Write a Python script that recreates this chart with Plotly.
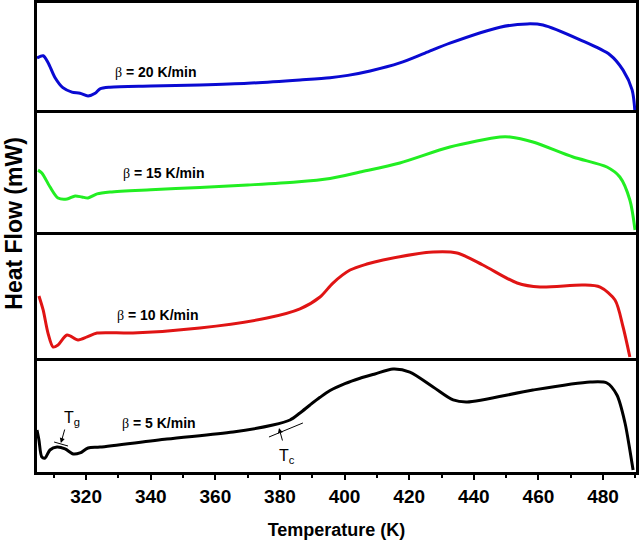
import plotly.graph_objects as go
from plotly.subplots import make_subplots

# DSC traces, heat flow in arbitrary units (each panel scaled 0-10)
temp_20 = [304.8, 306.7, 308.2, 310.4, 312.8, 315.6, 318.1, 320.6, 322.8, 324.3, 327.4, 340.0, 355.2, 370.0,
           386.2, 395.5, 401.0, 407.9, 417.1, 424.9, 432.6, 448.1, 456.5, 461.4, 472.9, 482.1, 486.2, 489.0,
           489.9]
hf_20 = [5.0, 5.2, 4.6, 3.2, 2.3, 1.9, 1.8, 1.55, 1.8, 2.2, 2.35, 2.45, 2.55, 2.7,
         3.0, 3.2, 3.42, 3.82, 4.55, 5.45, 6.35, 7.8, 8.1, 8.0, 6.65, 5.3, 3.9, 2.1,
         0.0]

temp_15 = [305.1, 306.3, 308.8, 311.3, 314.1, 316.6, 318.7, 320.6, 323.4, 327.4, 340.0, 355.2, 370.0, 385.0,
           395.5, 404.8, 417.1, 432.6, 448.1, 451.2, 458.3, 470.7, 481.2, 485.2, 488.3, 489.9]
hf_15 = [5.2, 4.96, 3.8, 2.86, 2.77, 3.03, 2.94, 2.86, 3.2, 3.36, 3.55, 3.74, 3.95, 4.2,
         4.5, 5.04, 5.8, 7.14, 7.98, 7.98, 7.56, 6.3, 5.46, 4.62, 2.69, 0.17]

temp_10 = [305.4, 306.7, 308.2, 309.8, 311.3, 314.1, 317.5, 320.3, 323.4, 334.5, 355.2, 376.0, 386.2,
           392.4, 396.4, 401.7, 406.9, 411.9, 427.4, 434.8, 442.8, 453.4, 460.5, 473.8, 479.1, 483.7,
           486.2, 488.3]
hf_10 = [4.92, 3.81, 1.98, 0.87, 1.03, 1.83, 1.43, 1.67, 1.98, 1.98, 2.38, 3.17, 3.9,
         4.84, 5.95, 6.98, 7.46, 7.78, 8.41, 8.33, 7.38, 5.95, 5.63, 5.79, 5.63, 4.6,
         2.46, 0.08]

temp_5 = [304.8, 305.4, 306.3, 307.3, 308.8, 311.0, 313.5, 316.0, 318.1, 320.6, 324.3, 345.0, 365.5,
          377.8, 383.1, 386.2, 389.3, 392.4, 395.5, 400.1, 404.8, 409.4, 415.0, 420.2, 427.4, 433.6,
          437.9, 458.3, 476.0, 481.2, 484.3, 486.8, 488.3, 489.3]
hf_5 = [3.68, 2.81, 1.32, 1.23, 1.93, 2.19, 2.02, 1.58, 1.67, 2.11, 2.19, 2.89, 3.51,
        4.12, 4.56, 5.18, 5.88, 6.55, 7.15, 7.75, 8.22, 8.6, 9.04, 8.77, 7.46, 6.32,
        6.14, 7.19, 7.89, 7.81, 6.75, 4.3, 1.93, 0.18]

rates = ["20", "15", "10", "5"]
colors = ["#0a0ad2", "#22ee22", "#e01414", "#000000"]
label_pos = [(328.3, 3.73), (330.8, 4.96), (329.0, 3.41), (330.5, 4.3)]

# onset construction lines (Tg and Tc) on the 5 K/min trace
tg_line_t = [310.1, 314.4]
tg_line_hf = [2.63, 2.28]
tc_line_t = [376.6, 387.1]
tc_line_hf = [3.07, 4.3]

FONT = "Liberation Sans, Arial, sans-serif"
BETA = "<span style=\"font-family:'Liberation Serif', serif;font-weight:normal\">\u03b2</span>"

fig = make_subplots(rows=4, cols=1, shared_xaxes=True, vertical_spacing=0,
                    row_heights=[110, 119, 126, 114])

series = [(temp_20, hf_20), (temp_15, hf_15), (temp_10, hf_10), (temp_5, hf_5)]
for i, (t, hf) in enumerate(series):
    fig.add_trace(go.Scatter(x=t, y=hf, mode="lines",
                             line=dict(color=colors[i], width=3, shape="spline", smoothing=0.8),
                             showlegend=False), row=i + 1, col=1)
    fig.add_annotation(x=label_pos[i][0], y=label_pos[i][1], xref=f"x{i + 1 if i else ''}",
                       yref=f"y{i + 1 if i else ''}", xanchor="left", yanchor="middle",
                       text=f"{BETA}<b> = {rates[i]} K/min</b>", showarrow=False,
                       font=dict(family=FONT, size=14, color="black"))

fig.add_trace(go.Scatter(x=tg_line_t, y=tg_line_hf, mode="lines",
                         line=dict(color="black", width=1), showlegend=False), row=4, col=1)
fig.add_trace(go.Scatter(x=tc_line_t, y=tc_line_hf, mode="lines",
                         line=dict(color="black", width=1), showlegend=False), row=4, col=1)

# arrows
fig.add_annotation(x=312.2, y=2.54, ax=313.5, ay=3.86, xref="x4", yref="y4", axref="x4", ayref="y4",
                   text="", showarrow=True, arrowhead=2, arrowsize=1, arrowwidth=1, arrowcolor="black")
fig.add_annotation(x=379.7, y=3.86, ax=380.9, ay=2.63, xref="x4", yref="y4", axref="x4", ayref="y4",
                   text="", showarrow=True, arrowhead=2, arrowsize=1, arrowwidth=1, arrowcolor="black")
fig.add_annotation(x=312.6, y=4.65, xref="x4", yref="y4", text="T<sub>g</sub>", showarrow=False,
                   xanchor="left", font=dict(family=FONT, size=16, color="black"))
fig.add_annotation(x=379.2, y=1.4, xref="x4", yref="y4", text="T<sub>c</sub>", showarrow=False,
                   xanchor="left", font=dict(family=FONT, size=16, color="black"))

# panel frames: bottom edge of every panel, plus top edges of panels 1 and 2
fig.update_xaxes(range=[304.8, 490.2], showline=True, mirror=False, linewidth=2.5, linecolor="black",
                 showgrid=False, zeroline=False, ticks="", automargin=False)
fig.update_xaxes(row=1, col=1, mirror=True)
fig.update_xaxes(row=2, col=1, mirror=True)
fig.update_xaxes(row=4, col=1, ticks="outside", ticklen=5, tickwidth=2, tickcolor="black",
                 tick0=320, dtick=20,
                 minor=dict(ticks="outside", ticklen=3, tickwidth=2, tickcolor="black", dtick=10, tick0=310),
                 tickfont=dict(family=FONT, size=19, color="black", weight="bold"),
                 title=dict(text="Temperature (K)", standoff=18,
                            font=dict(family=FONT, size=18, color="black", weight="bold")))
fig.update_yaxes(range=[0, 10], showline=True, mirror=True, linewidth=2.5, linecolor="black",
                 showgrid=False, zeroline=False, showticklabels=False, ticks="", automargin=False)

fig.add_annotation(x=-0.038, y=0.53, xref="paper", yref="paper", textangle=-90,
                   text="Heat Flow (mW)", showarrow=False, xanchor="center", yanchor="middle",
                   font=dict(family=FONT, size=23, color="black", weight="bold"))

fig.update_layout(width=640, height=541, margin=dict(l=37, r=4, t=3, b=69),
                  plot_bgcolor="white", paper_bgcolor="white")

fig.write_html("out.html", config={"displayModeBar": False},
               post_script="document.body.style.margin='0';document.body.style.overflow='hidden';")
